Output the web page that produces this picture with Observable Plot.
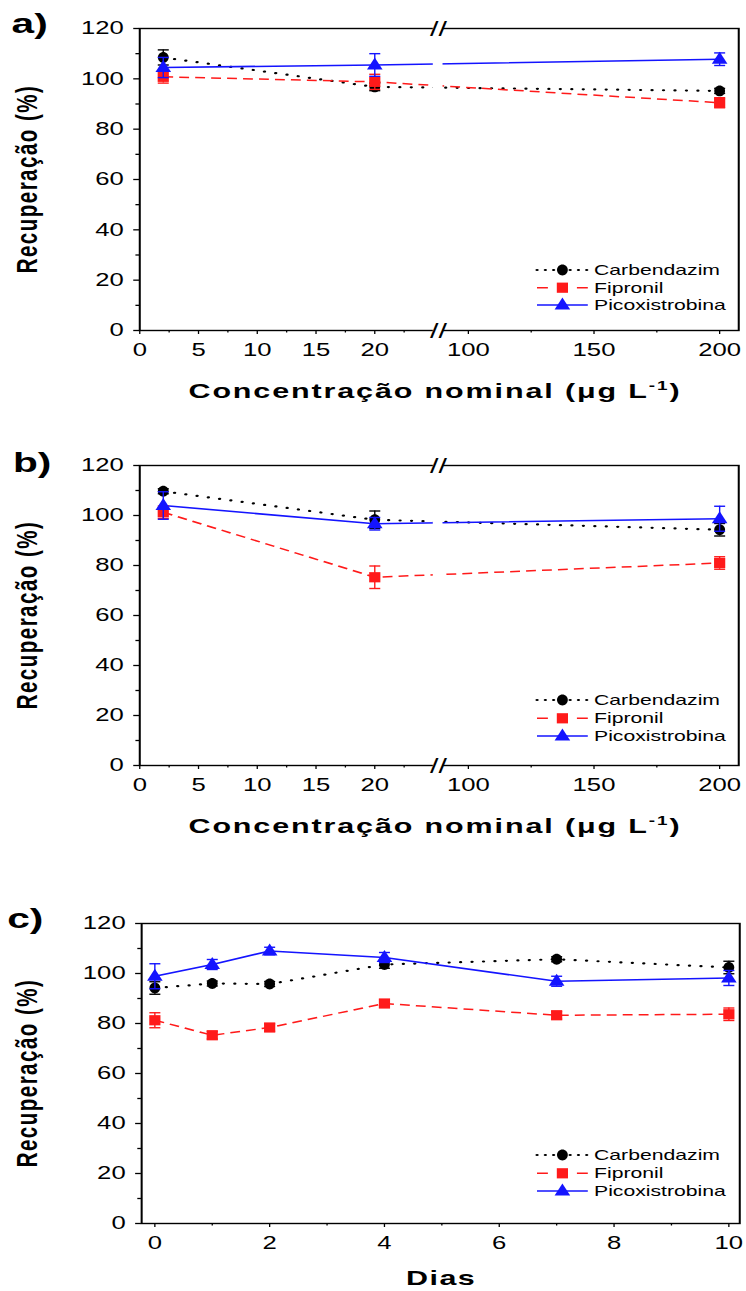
<!DOCTYPE html>
<html>
<head>
<meta charset="utf-8">
<script src="https://cdn.jsdelivr.net/npm/d3@7"></script>
<script src="https://cdn.jsdelivr.net/npm/@observablehq/plot@0.6"></script>
<style>
  html, body { margin: 0; padding: 0; background: white; }
  #root { position: relative; width: 746px; height: 1291px; overflow: hidden; background: white; }
  .panel { position: absolute; left: 0; }
</style>
</head>
<body>
<div id="root"></div>
<script>
// ---------------- data ----------------
const seriesNames = ["Carbendazim", "Fipronil", "Picoxistrobina"];
const concentrations = [2, 20, 200];
const days = [0, 1, 2, 4, 7, 10];

// panel a
const carbendazimA = [108.5, 96.8, 95.2];
const carbendazimAErr = [3, 1.5, 1];
const fipronilA = [100.8, 98.8, 90.5];
const fipronilAErr = [2.5, 3, 2];
const picoxistrobinaA = [104.5, 105.5, 107.8];
const picoxistrobinaAErr = [4, 4.5, 2.5];

// panel b
const carbendazimB = [109.7, 98.3, 94.3];
const carbendazimBErr = [1, 3.5, 2.5];
const fipronilB = [101.3, 75.3, 81];
const fipronilBErr = [2.5, 4.5, 2.5];
const picoxistrobinaB = [104, 96.7, 98.7];
const picoxistrobinaBErr = [5.5, 2.5, 5];

// panel c
const carbendazimC = [94.2, 96, 95.8, 103.6, 105.7, 102.4];
const carbendazimCErr = [2.5, 1, 1, 1.5, 1, 2.5];
const fipronilC = [81.3, 75.3, 78.4, 88, 83.3, 83.7];
const fipronilCErr = [3, 1.5, 1.5, 1.5, 1.5, 2.5];
const picoxistrobinaC = [98.9, 103.6, 109, 106.4, 96.9, 98.2];
const picoxistrobinaCErr = [5, 2, 1.5, 2, 2, 3];

// ticks
const yTicks = [0, 20, 40, 60, 80, 100, 120];
const yMinorTicks = [10, 30, 50, 70, 90, 110];
const concTicks = [0, 5, 10, 15, 20, 100, 150, 200];
const concMinorTicks = [2.5, 7.5, 12.5, 17.5, 22.5, 125, 175];
const dayTicks = [0, 2, 4, 6, 8, 10];
const dayMinorTicks = [1, 3, 5, 7, 9];
const concBreak = [25, 90];      // broken x-axis gap
const concDomain = [0, 25, 90, 207.6];
const dayDomain = [-0.23, 10.19];
const yDomain = [0, 120];

const concTitle = "Concentração nominal (μg L";
const dayTitle = "Dias";
const yTitle = "Recuperação (%)";

// ---------------- layout ----------------
const W0 = 514;            // drawing width, stretched horizontally to 746
const K = 746 / W0;
const FONT = "'Liberation Sans', Arial, Helvetica, sans-serif";

function ellipsePath(ctx, rx, ry) {
  const k = 0.5523;
  ctx.moveTo(rx, 0);
  ctx.bezierCurveTo(rx, k * ry, k * rx, ry, 0, ry);
  ctx.bezierCurveTo(-k * rx, ry, -rx, k * ry, -rx, 0);
  ctx.bezierCurveTo(-rx, -k * ry, -k * rx, -ry, 0, -ry);
  ctx.bezierCurveTo(k * rx, -ry, rx, -k * ry, rx, 0);
  ctx.closePath();
}
const circleSym = {draw(ctx) { ellipsePath(ctx, 5.4 / K, 5.4); }};
const squareSym = {draw(ctx) { const w = 5.6 / K, h = 5.1; ctx.moveTo(-w, -h); ctx.lineTo(w, -h); ctx.lineTo(w, h); ctx.lineTo(-w, h); ctx.closePath(); }};
const triSym = {draw(ctx) { const w = 7.8 / K; ctx.moveTo(0, -7.5); ctx.lineTo(w, 4.6); ctx.lineTo(-w, 4.6); ctx.closePath(); }};
const capSym = {draw(ctx) { const w = 5.5 / K; ctx.moveTo(-w, 0); ctx.lineTo(w, 0); }};

const styles = {
  "Carbendazim":    {color: "#000000", dash: "0.1,7.8", cap: "round", width: 2.2, legendDash: "0.1,5.6", sym: circleSym},
  "Fipronil":       {color: "#ff1a1a", dash: "6.8,4.2", cap: "butt",  width: 1.5, legendDash: "7.5,20,7.5", sym: squareSym},
  "Picoxistrobina": {color: "#1414ff", dash: null,      cap: "butt",  width: 1.6, legendDash: null, sym: triSym}
};

function table(xs, vals, errs) {
  return seriesNames.flatMap((s, i) => xs.map((x, j) => ({s, x, y: vals[i][j], e: errs[i][j]})));
}

function makePanel(cfg) {
  const data = table(cfg.xs, cfg.vals, cfg.errs);
  const marks = [];
  for (const s of seriesNames) {
    const st = styles[s];
    const d = data.filter(r => r.s === s);
    marks.push(Plot.line(d, {x: "x", y: "y", stroke: st.color, strokeWidth: st.width, strokeDasharray: st.dash, strokeLinecap: st.cap}));
  }
  if (cfg.gap) {
    marks.push(Plot.rect([{a: cfg.gap[0], b: cfg.gap[1]}], {x1: "a", x2: "b", y1: () => yDomain[0], y2: () => yDomain[1], fill: "white", insetTop: -4, insetBottom: -4}));
  }
  for (const s of seriesNames) {
    const st = styles[s];
    const d = data.filter(r => r.s === s);
    marks.push(Plot.ruleX(d, {x: "x", y1: r => r.y - r.e, y2: r => r.y + r.e, stroke: st.color, strokeWidth: 1.4 / K}));
    marks.push(Plot.dot(d, {x: "x", y: r => r.y + r.e, symbol: capSym, stroke: st.color, strokeWidth: 1.4, fill: "none"}));
    marks.push(Plot.dot(d, {x: "x", y: r => r.y - r.e, symbol: capSym, stroke: st.color, strokeWidth: 1.4, fill: "none"}));
    marks.push(Plot.dot(d, {x: "x", y: "y", symbol: st.sym, fill: st.color, stroke: "none"}));
  }
  marks.push(Plot.frame({stroke: "black", strokeWidth: 1.4}));
  if (cfg.gap) {
    const mid = (cfg.gap[0] + cfg.gap[1]) / 2;
    marks.push(Plot.rect([{a: cfg.gap[0], b: cfg.gap[1], y: yDomain[1]}, {a: cfg.gap[0], b: cfg.gap[1], y: yDomain[0]}], {x1: "a", x2: "b", y1: "y", y2: "y", fill: "white", insetTop: -2, insetBottom: -2}));
    marks.push(Plot.text(yDomain, {x: () => mid, y: v => v, text: () => "//", fontSize: 21, fontWeight: "normal", dy: 1, fill: "black"}));
  }
  marks.push(Plot.axisY(yTicks, {tickSize: 4, tickPadding: 7, fontSize: 17.7, strokeWidth: 1.3, label: null}));
  marks.push(Plot.axisY(yMinorTicks, {tickSize: 2.5, tickFormat: () => "", strokeWidth: 1.3, label: null}));
  marks.push(Plot.axisX(cfg.ticks, {tickSize: 4, tickPadding: 9, fontSize: 17.7, strokeWidth: 1.3 / K, label: null}));
  marks.push(Plot.axisX(cfg.minor, {tickSize: 2.5, tickFormat: () => "", strokeWidth: 1.3 / K, label: null}));

  const svg = Plot.plot({
    width: W0,
    height: cfg.height,
    marginTop: cfg.mt,
    marginBottom: cfg.mb,
    marginLeft: cfg.range[0],
    marginRight: W0 - cfg.range[cfg.range.length - 1],
    style: {fontFamily: FONT, background: "white", color: "black"},
    x: {type: "linear", domain: cfg.domain, range: cfg.range},
    y: {domain: yDomain},
    marks
  });

  const g = d3.select(svg);
  // y title
  const frameMid = cfg.mt + (cfg.height - cfg.mt - cfg.mb) / 2;
  g.append("text")
    .attr("transform", `translate(18.6,${frameMid}) rotate(-90)`)
    .attr("text-anchor", "middle").attr("dominant-baseline", "central")
    .attr("font-family", FONT).attr("font-weight", "bold").attr("font-size", 20.5)
    .attr("letter-spacing", 1.5).attr("fill", "black")
    .text(yTitle);
  // x title
  const xt = g.append("text")
    .attr("x", cfg.titleX).attr("y", cfg.titleY)
    .attr("text-anchor", "middle")
    .attr("font-family", FONT).attr("font-weight", "bold").attr("font-size", 21)
    .attr("letter-spacing", cfg.sup ? 1.3 : 1).attr("fill", "black");
  if (cfg.sup) {
    xt.append("tspan").text(cfg.title);
    xt.append("tspan").attr("dy", -8).attr("font-size", 13).text("-1");
    xt.append("tspan").attr("dy", 8).text(")");
  } else {
    xt.text(cfg.title);
  }
  // panel letter
  g.append("text").attr("x", cfg.letterX).attr("y", cfg.letterY)
    .attr("text-anchor", "start")
    .attr("font-family", FONT).attr("font-weight", "bold").attr("font-size", 28).attr("fill", "black")
    .text(cfg.letter);
  // legend
  const lg = g.append("g");
  seriesNames.forEach((s, i) => {
    const st = styles[s];
    const y = cfg.legendY[i];
    lg.append("line").attr("x1", 370).attr("x2", 405).attr("y1", y).attr("y2", y)
      .attr("stroke", st.color).attr("stroke-width", st.width)
      .attr("stroke-dasharray", st.legendDash)
      .attr("stroke-linecap", st.cap);
    lg.append("path").attr("transform", `translate(387.5,${y})`)
      .attr("d", d3.symbol(st.sym, 64)()).attr("fill", st.color);
    lg.append("text").attr("x", 409.3).attr("y", y).attr("dominant-baseline", "central")
      .attr("text-anchor", "start")
      .attr("font-family", FONT).attr("font-size", 14.6).attr("fill", "black").text(s);
  });

  svg.setAttribute("width", 746);
  svg.setAttribute("preserveAspectRatio", "none");
  svg.style.width = "746px";
  svg.style.height = cfg.height + "px";
  svg.style.maxWidth = "none";

  const div = document.createElement("div");
  div.className = "panel";
  div.style.top = cfg.top + "px";
  div.appendChild(svg);
  document.getElementById("root").appendChild(div);
}

const concRange = [95.8, 298.2, 304.9, 508.5];

makePanel({
  top: 0, height: 420, mt: 28, mb: 90,
  xs: concentrations,
  vals: [carbendazimA, fipronilA, picoxistrobinaA],
  errs: [carbendazimAErr, fipronilAErr, picoxistrobinaAErr],
  domain: concDomain, range: concRange, gap: concBreak,
  ticks: concTicks, minor: concMinorTicks,
  title: concTitle, sup: true, titleX: 299.7, titleY: 398,
  letter: "a)", letterX: 8, letterY: 33,
  legendY: [270, 287.7, 305]
});

makePanel({
  top: 430, height: 420, mt: 35, mb: 85,
  xs: concentrations,
  vals: [carbendazimB, fipronilB, picoxistrobinaB],
  errs: [carbendazimBErr, fipronilBErr, picoxistrobinaBErr],
  domain: concDomain, range: concRange, gap: concBreak,
  ticks: concTicks, minor: concMinorTicks,
  title: concTitle, sup: true, titleX: 299.7, titleY: 403,
  letter: "b)", letterX: 9, letterY: 42,
  legendY: [270, 288.3, 306]
});

makePanel({
  top: 860, height: 431, mt: 63, mb: 68,
  xs: days,
  vals: [carbendazimC, fipronilC, picoxistrobinaC],
  errs: [carbendazimCErr, fipronilCErr, picoxistrobinaCErr],
  domain: dayDomain, range: [97.1, 509.2], gap: null,
  ticks: dayTicks, minor: dayMinorTicks,
  title: dayTitle, sup: false, titleX: 304, titleY: 425,
  letter: "c)", letterX: 5, letterY: 68,
  legendY: [295, 313.3, 331]
});
</script>
</body>
</html>
